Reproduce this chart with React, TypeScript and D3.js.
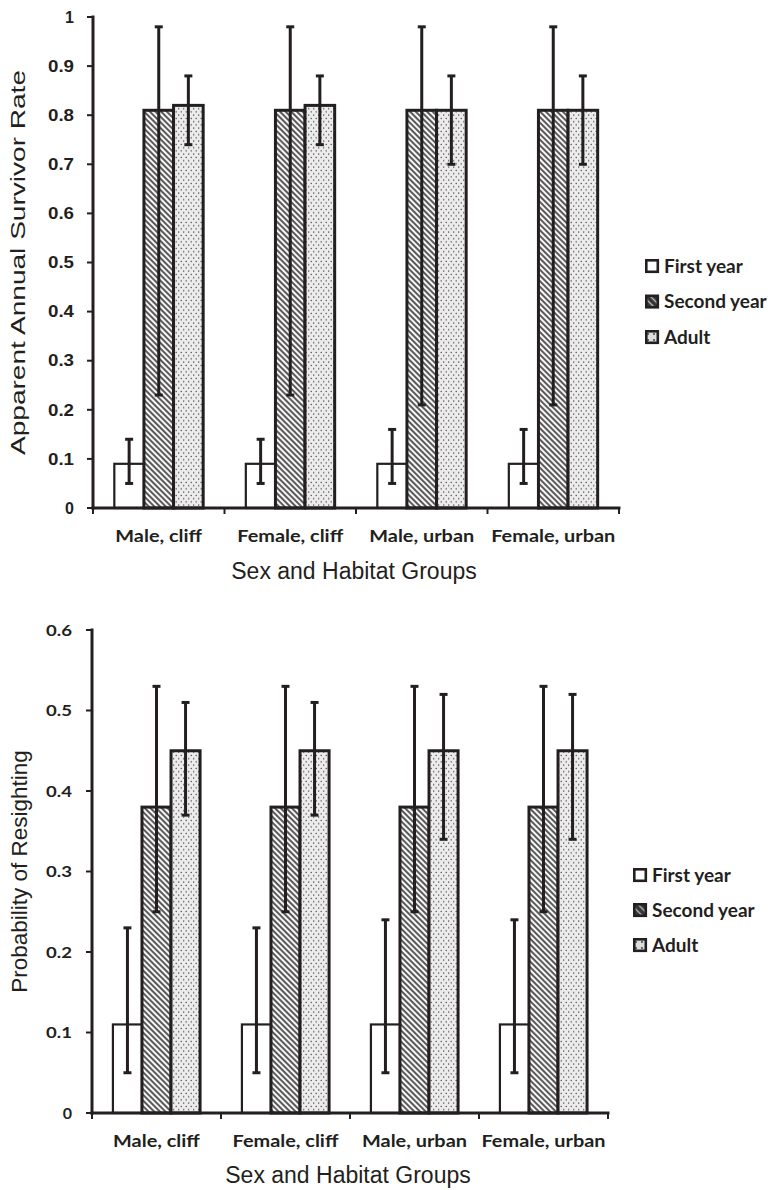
import React from "react";
import * as d3 from "d3";

const groups = ["Male, cliff", "Female, cliff", "Male, urban", "Female, urban"];
const seriesNames = ["First year", "Second year", "Adult"];

// Top chart: apparent annual survival
const survFirst = [0.09, 0.09, 0.09, 0.09];
const survFirstLo = [0.05, 0.05, 0.05, 0.05];
const survFirstHi = [0.14, 0.14, 0.16, 0.16];
const survSecond = [0.81, 0.81, 0.81, 0.81];
const survSecondLo = [0.23, 0.23, 0.21, 0.21];
const survSecondHi = [0.98, 0.98, 0.98, 0.98];
const survAdult = [0.82, 0.82, 0.81, 0.81];
const survAdultLo = [0.74, 0.74, 0.7, 0.7];
const survAdultHi = [0.88, 0.88, 0.88, 0.88];
const survTicks = [0, 0.1, 0.2, 0.3, 0.4, 0.5, 0.6, 0.7, 0.8, 0.9, 1];

// Bottom chart: resighting probability
const resFirst = [0.11, 0.11, 0.11, 0.11];
const resFirstLo = [0.05, 0.05, 0.05, 0.05];
const resFirstHi = [0.23, 0.23, 0.24, 0.24];
const resSecond = [0.38, 0.38, 0.38, 0.38];
const resSecondLo = [0.25, 0.25, 0.25, 0.25];
const resSecondHi = [0.53, 0.53, 0.53, 0.53];
const resAdult = [0.45, 0.45, 0.45, 0.45];
const resAdultLo = [0.37, 0.37, 0.34, 0.34];
const resAdultHi = [0.51, 0.51, 0.52, 0.52];
const resTicks = [0, 0.1, 0.2, 0.3, 0.4, 0.5, 0.6];

const fills = ["#ffffff", "url(#hatch)", "url(#dots)"];
const swatchFills = ["#ffffff", "url(#hatchS)", "url(#dotsS)"];
const INK = "#231f20";

type Props = {
  vals: number[][];
  lo: number[][];
  hi: number[][];
  ticks: number[];
  yMax: number;
  x0: number;
  x1: number;
  yTop: number;
  yBot: number;
  yTitle: string;
  yTitleX: number;
  yTitleSize: number;
  yTitleLen?: number;
  xLabelY: number;
  xTitleY: number;
  legendX: number;
  legendY: number;
  legendStep: number;
  yFont: string;
  yLabelX: number;
};

function Chart(p: Props) {
  const x = d3.scaleBand<string>().domain(groups).range([p.x0, p.x1]).padding(0);
  const xi = d3
    .scaleBand<string>()
    .domain(seriesNames)
    .range([0, x.bandwidth()])
    .paddingInner(0)
    .paddingOuter(0.72);
  const y = d3.scaleLinear().domain([0, p.yMax]).range([p.yBot, p.yTop]);
  const catTicks = [...groups.map((g) => x(g)!), p.x1];
  const fmt = (v: number) => (v === 0 ? "0" : v === 1 ? "1" : d3.format(".1f")(v));
  return (
    <g>
      {groups.map((g, gi) =>
        seriesNames.map((s, si) => {
          const bx = x(g)! + xi(s)!;
          const v = p.vals[si][gi];
          return (
            <rect
              key={g + s}
              x={bx}
              y={y(v)}
              width={xi.bandwidth()}
              height={y(0) - y(v)}
              fill={fills[si]}
              stroke={INK}
              strokeWidth={si === 0 ? 2.2 : 3}
            />
          );
        })
      )}
      {groups.map((g, gi) =>
        seriesNames.map((s, si) => {
          const cx = x(g)! + xi(s)! + xi.bandwidth() / 2;
          const l = y(p.lo[si][gi]);
          const h = y(p.hi[si][gi]);
          return (
            <g key={"e" + g + s} stroke={INK} strokeWidth={3}>
              <line x1={cx} x2={cx} y1={l} y2={h} />
              <line x1={cx - 4} x2={cx + 4} y1={l} y2={l} />
              <line x1={cx - 4} x2={cx + 4} y1={h} y2={h} />
            </g>
          );
        })
      )}
      {/* axes */}
      <line x1={p.x0} x2={p.x0} y1={p.yTop - 1.5} y2={p.yBot + 1.5} stroke={INK} strokeWidth={3} />
      <line x1={p.x0 - 1.5} x2={p.x1 + 1.5} y1={p.yBot} y2={p.yBot} stroke={INK} strokeWidth={3} />
      {p.ticks.map((t) => {
        const label = fmt(t);
        return (
          <g key={"t" + t}>
            <line x1={p.x0 - 6} x2={p.x0} y1={y(t)} y2={y(t)} stroke={INK} strokeWidth={2} />
            <text
              x={p.yLabelX}
              y={y(t)}
              dy="0.36em"
              textAnchor="end"
              fontFamily={p.yFont}
              fontWeight="bold"
              fontSize={16}
              fill={INK}
              textLength={label.length > 1 ? 26 : undefined}
              lengthAdjust="spacingAndGlyphs"
            >
              {label}
            </text>
          </g>
        );
      })}
      {catTicks.map((cx, i) => (
        <line key={"c" + i} x1={cx} x2={cx} y1={p.yBot} y2={p.yBot + 6} stroke={INK} strokeWidth={2} />
      ))}
      {groups.map((g) => (
        <text
          key={"l" + g}
          transform={`translate(${x(g)! + x.bandwidth() / 2},${p.xLabelY}) scale(1.17,1)`}
          textAnchor="middle"
          fontFamily="Lato, 'Open Sans', sans-serif"
          fontWeight="bold"
          fontSize={17}
          fill={INK}
        >
          {g}
        </text>
      ))}
      <text
        x={(p.x0 + p.x1) / 2 - 2}
        y={p.xTitleY}
        textAnchor="middle"
        fontFamily="'Liberation Sans', Arial, sans-serif"
        fontSize={23}
        fill={INK}
      >
        Sex and Habitat Groups
      </text>
      <text
        transform={`translate(${p.yTitleX},${(p.yTop + p.yBot) / 2}) rotate(-90)`}
        textAnchor="middle"
        fontFamily="'Liberation Sans', Arial, sans-serif"
        fontSize={p.yTitleSize}
        fill={INK}
        textLength={p.yTitleLen}
        lengthAdjust="spacingAndGlyphs"
      >
        {p.yTitle}
      </text>
      {seriesNames.map((s, si) => (
        <g key={"lg" + s} transform={`translate(${p.legendX},${p.legendY + si * p.legendStep})`}>
          <rect x={1.3} y={-5.7} width={11.5} height={11.5} fill={swatchFills[si]} stroke={INK} strokeWidth={2.6} />
          <text
            x={19}
            y={0}
            dy="0.36em"
            fontFamily="Lato, 'Open Sans', sans-serif"
            fontWeight="bold"
            fontSize={19}
            fill={INK}
          >
            {s}
          </text>
        </g>
      ))}
    </g>
  );
}

export default function App() {
  return (
    <svg
      width={772}
      height={1190}
      viewBox="0 0 772 1190"
      style={{ position: "absolute", left: 0, top: 0, background: "#fff" }}
    >
      <defs>
        <pattern id="hatch" width={4} height={4} patternUnits="userSpaceOnUse" patternTransform="rotate(45)">
          <rect width={4} height={4} fill="#f6f6f6" />
          <line x1={0} y1={1} x2={4} y2={1} stroke="#333" strokeWidth={1.6} />
        </pattern>
        <pattern id="dots" width={5} height={6.5} patternUnits="userSpaceOnUse">
          <rect width={5} height={6.5} fill="#ececec" />
          <circle cx={1.2} cy={1.5} r={0.7} fill="#333" />
          <circle cx={3.7} cy={4.75} r={0.7} fill="#333" />
        </pattern>
        <pattern id="hatchS" width={5} height={5} patternUnits="userSpaceOnUse" patternTransform="rotate(45)">
          <rect width={5} height={5} fill="#333" />
          <line x1={0} y1={2.5} x2={5} y2={2.5} stroke="#bbb" strokeWidth={1.4} />
        </pattern>
        <pattern id="dotsS" width={6} height={6} patternUnits="userSpaceOnUse">
          <rect width={6} height={6} fill="#ddd" />
          <circle cx={3} cy={3} r={0.9} fill="#333" />
        </pattern>
      </defs>
      <rect width={772} height={1190} fill="#fff" />
      <Chart
        vals={[survFirst, survSecond, survAdult]}
        lo={[survFirstLo, survSecondLo, survAdultLo]}
        hi={[survFirstHi, survSecondHi, survAdultHi]}
        ticks={survTicks}
        yMax={1}
        x0={93}
        x1={619}
        yTop={17}
        yBot={508}
        yTitle="Apparent Annual Survivor Rate"
        yTitleX={25}
        yTitleSize={21}
        yTitleLen={385}
        xLabelY={542}
        xTitleY={579}
        legendX={645}
        legendY={266}
        legendStep={35.5}
        yFont="'Liberation Sans', Arial, sans-serif"
        yLabelX={74}
      />
      <Chart
        vals={[resFirst, resSecond, resAdult]}
        lo={[resFirstLo, resSecondLo, resAdultLo]}
        hi={[resFirstHi, resSecondHi, resAdultHi]}
        ticks={resTicks}
        yMax={0.6}
        x0={92}
        x1={608}
        yTop={630}
        yBot={1113}
        yTitle="Probability of Resighting"
        yTitleX={27}
        yTitleSize={22.5}
        xLabelY={1147}
        xTitleY={1183}
        legendX={633}
        legendY={875}
        legendStep={35}
        yFont="Lato, 'Open Sans', sans-serif"
        yLabelX={72}
      />
    </svg>
  );
}
